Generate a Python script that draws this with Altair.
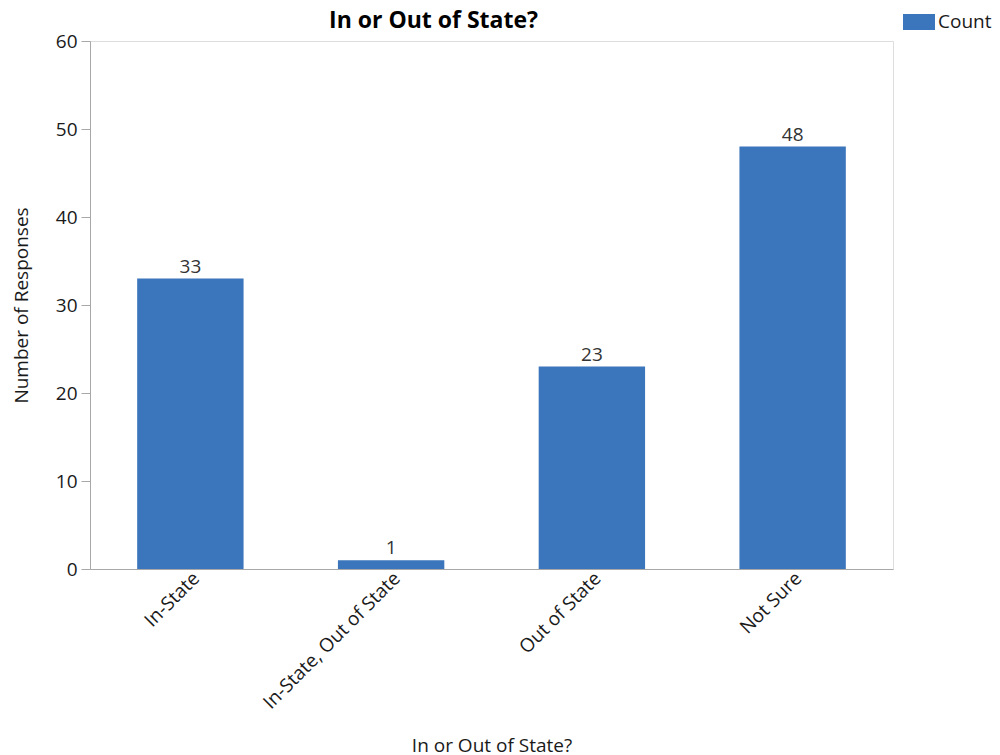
import altair as alt
import pandas as pd

categories = ["In-State", "In-State, Out of State", "Out of State", "Not Sure"]
counts = [33, 1, 23, 48]
series_name = ["Count", "Count", "Count", "Count"]

df = pd.DataFrame({"category": categories, "count": counts, "series": series_name})

FONT = "Open Sans"
BAR = "#3b75bb"
GRAY = "#a8a8a8"
FS = 19

x_enc = alt.X(
    "category:N",
    sort=categories,
    title="In or Out of State?",
    scale=alt.Scale(paddingInner=0.47, paddingOuter=0.235),
    axis=alt.Axis(
        labelAngle=-45,
        labelAlign="right",
        labelBaseline="middle",
        labelLimit=400,
        labelOffset=6,
        ticks=False,
        labelPadding=6,
        labelFontSize=FS,
        labelColor="#1a1a1a",
        titleFontSize=FS,
        titleFontWeight="normal",
        titleColor="#1a1a1a",
        titlePadding=24,
        domainColor=GRAY,
        labelFont=FONT,
        titleFont=FONT,
    ),
)

y_enc = alt.Y(
    "count:Q",
    title="Number of Responses",
    scale=alt.Scale(domain=[0, 60], nice=False),
    axis=alt.Axis(
        values=[0, 10, 20, 30, 40, 50, 60],
        grid=False,
        tickSize=9,
        tickColor=GRAY,
        domainColor=GRAY,
        labelPadding=4,
        labelFontSize=FS,
        labelColor="#1a1a1a",
        titleFontSize=FS,
        titleFontWeight="normal",
        titleColor="#1a1a1a",
        titlePadding=24,
        labelFont=FONT,
        titleFont=FONT,
    ),
)

bars = alt.Chart(df).mark_bar(color=BAR).encode(
    x=x_enc,
    y=y_enc,
    color=alt.Color(
        "series:N",
        scale=alt.Scale(range=[BAR]),
        legend=alt.Legend(
            title=None,
            orient="none",
            legendX=813,
            legendY=-35,
            symbolType="M-1,-0.5H1V0.5H-1Z",
            symbolSize=1024,
            symbolStrokeWidth=0,
            symbolOpacity=1,
            labelFontSize=FS,
            labelFont=FONT,
            labelColor="#1a1a1a",
            labelOffset=3,
        ),
    ),
)

labels = alt.Chart(df).mark_text(
    dy=-6, fontSize=FS, font=FONT, color="#333333", baseline="alphabetic"
).encode(
    x=alt.X("category:N", sort=categories),
    y=alt.Y("count:Q"),
    text="count:Q",
)

chart = (
    alt.layer(bars, labels)
    .properties(
        width=803,
        height=528,
        title=alt.TitleParams(
            "In or Out of State?",
            fontSize=23,
            fontWeight="bold",
            font=FONT,
            color="#000000",
            anchor="middle",
            frame="group",
            dx=-58,
            dy=36,
            offset=9,
        ),
        padding={"left": 90, "top": 41, "right": 107, "bottom": 186},
        autosize=alt.AutoSizeParams(type="none"),
    )
    .configure_view(stroke=GRAY, strokeWidth=1.5)
    .configure(background="white")
)

chart.save("out.html", embed_options={"renderer": "svg", "actions": False})
